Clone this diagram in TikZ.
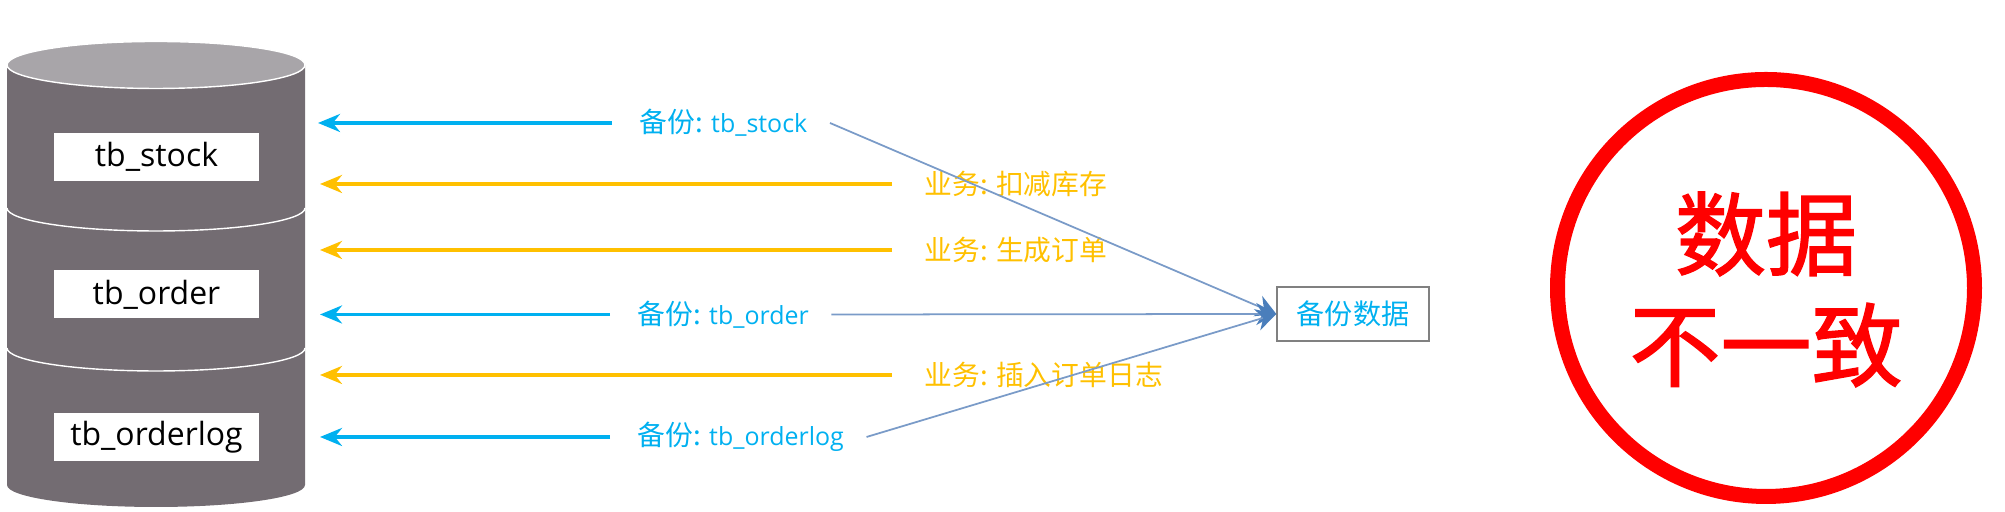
\documentclass[tikz,border=0pt]{standalone}
\usepackage{xcolor}
\usepackage{fontspec}
\usetikzlibrary{arrows.meta}
\setmainfont{Noto Sans CJK SC}
\newfontfamily\latinfont{Open Sans}
\newfontfamily\bigfont[FakeBold=1.6]{Noto Sans CJK SC}

\definecolor{bakblue}{HTML}{00B0F0}
\definecolor{bizyellow}{HTML}{FFC000}
\definecolor{dbgray}{HTML}{736C72}
\definecolor{dbtop}{HTML}{A8A5A9}
\definecolor{linkblue}{HTML}{7A9BC8}
\definecolor{tipblue}{HTML}{4A7EBB}

\newcommand{\tbname}[1]{{\latinfont\fontsize{7.1}{9}\selectfont #1}}

\tikzset{
    tablebox/.style={fill=white, minimum width=2.055cm, minimum height=0.48cm, inner sep=0pt, font=\latinfont\fontsize{9.1}{10}\selectfont},
    baklabel/.style={text=bakblue, inner xsep=0.22cm, inner ysep=0pt, font=\fontsize{7.9}{9}\selectfont},
    bizlabel/.style={text=bizyellow, inner xsep=0.32cm, inner ysep=0pt, font=\fontsize{7.9}{9}\selectfont},
    bakarrow/.style={-{Stealth[length=2.2mm,width=1.8mm]}, bakblue, line width=1.1pt, shorten <=0.05cm},
    bizarrow/.style={-{Stealth[length=2.2mm,width=1.8mm]}, bizyellow, line width=1.1pt},
    baklink/.style={-{Stealth[length=2mm,width=2.2mm,color=tipblue]}, linkblue, line width=0.5pt}
}

\begin{document}
\begin{tikzpicture}
    \useasboundingbox (0,0) rectangle (20.05,5.12);

    %% cylinder
    \fill[dbgray] (0.07,4.47) -- (0.07,0.27) arc[start angle=180, end angle=360, x radius=1.49, y radius=0.22] -- (3.05,4.47) -- cycle;
    \draw[white, thin, fill=dbtop] (1.56,4.47) ellipse [x radius=1.49, y radius=0.235];
    \draw[white, thin] (0.07,3.04) arc[start angle=180, end angle=360, x radius=1.49, y radius=0.23];
    \draw[white, thin] (0.07,1.64) arc[start angle=180, end angle=360, x radius=1.49, y radius=0.23];

    \node[tablebox] (stock) at (1.565,3.55) {tb\_stock};
    \node[tablebox] (order) at (1.565,2.175) {tb\_order};
    \node[tablebox] (orderlog) at (1.565,0.75) {tb\_orderlog};

    %% free ends beside the cylinder
    \coordinate (a1) at (3.18,3.89);
    \coordinate (a2) at (3.20,3.28);
    \coordinate (a3) at (3.20,2.62);
    \coordinate (a4) at (3.20,1.975);
    \coordinate (a5) at (3.20,1.37);
    \coordinate (a6) at (3.20,0.75);

    %% labels
    \node[baklabel, anchor=west] (bakstock) at (6.17,3.89) {备份: \tbname{tb\_stock}};
    \node[bizlabel, anchor=west] (bizstock) at (8.92,3.28) {业务: 扣减库存};
    \node[bizlabel, anchor=west] (bizorder) at (8.92,2.62) {业务: 生成订单};
    \node[baklabel, anchor=west] (bakorder) at (6.15,1.975) {备份: \tbname{tb\_order}};
    \node[bizlabel, anchor=west] (bizlog) at (8.92,1.37) {业务: 插入订单日志};
    \node[baklabel, anchor=west] (baklog) at (6.15,0.75) {备份: \tbname{tb\_orderlog}};

    \draw[bakarrow] (bakstock.west) -- (a1);
    \draw[bizarrow] (bizstock.west) -- (a2);
    \draw[bizarrow] (bizorder.west) -- (a3);
    \draw[bakarrow] (bakorder.west) -- (a4);
    \draw[bizarrow] (bizlog.west) -- (a5);
    \draw[bakarrow] (baklog.west) -- (a6);

    %% backup box
    \node[draw=gray, thin, text=bakblue, minimum width=1.52cm, minimum height=0.54cm, inner sep=0pt, font=\fontsize{8}{9}\selectfont] (backup) at (13.53,1.98) {备份数据};
    \draw[baklink] (bakstock.east) -- (backup.west);
    \draw[baklink] (bakorder.east) -- (backup.west);
    \draw[baklink] (baklog.east) -- (backup.west);

    %% red ring
    \draw[red, line width=0.15cm] (17.66,2.24) circle (2.085);
    \node[red, font=\bigfont\fontsize{25.9}{30}\selectfont, inner sep=0pt] (shu) at (17.66,2.78) {数据};
    \node[red, font=\bigfont\fontsize{25.9}{30}\selectfont, inner sep=0pt] (buyizhi) at (17.66,1.67) {不一致};
\end{tikzpicture}
\end{document}
